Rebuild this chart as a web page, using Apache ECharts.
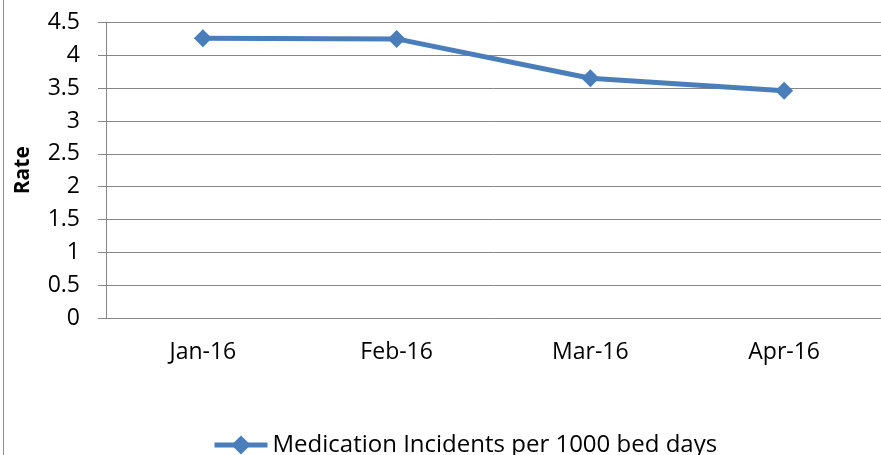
<!DOCTYPE html>
<html>
<head>
<meta charset="utf-8">
<script src="https://cdn.jsdelivr.net/npm/echarts@6/dist/echarts.min.js"></script>
<style>
html,body{margin:0;padding:0;background:#fff;}
#chart{width:881px;height:455px;}
</style>
</head>
<body>
<div id="chart"></div>
<script>
const categories = ['Jan-16', 'Feb-16', 'Mar-16', 'Apr-16'];
const seriesName = 'Medication Incidents per 1000 bed days';
const rateValues = [4.26, 4.25, 3.65, 3.46];
const yAxisName = 'Rate';

const FONT = 'Open Sans';
const chart = echarts.init(document.getElementById('chart'), null, {renderer: 'canvas'});
chart.setOption({
  animation: false,
  backgroundColor: '#ffffff',
  grid: {left: 106, right: -3, top: 22.5, bottom: 137, containLabel: false},
  graphic: [{
    type: 'line', shape: {x1: 3.5, y1: 0, x2: 3.5, y2: 455},
    style: {stroke: '#8c8c8c', lineWidth: 1}
  }],
  legend: {
    left: 207, top: 428,
    itemWidth: 53, itemHeight: 24,
    textStyle: {fontFamily: FONT, fontSize: 24, color: '#000'},
    lineStyle: {width: 5},
    data: [{name: seriesName}]
  },
  xAxis: {
    type: 'category', data: categories, boundaryGap: true,
    axisLine: {show: false},
    axisTick: {show: false},
    axisLabel: {margin: 23, fontFamily: FONT, fontSize: 23, color: '#000'},
    splitLine: {show: false}
  },
  yAxis: {
    type: 'value', min: 0, max: 4.5, interval: 0.5,
    name: yAxisName, nameLocation: 'middle', nameRotate: 90, nameGap: 72,
    nameTextStyle: {fontFamily: FONT, fontSize: 21, fontWeight: 'bold', color: '#000'},
    axisLine: {show: true, lineStyle: {color: '#868686', width: 1}},
    axisTick: {show: true, inside: false, length: 8, lineStyle: {color: '#868686', width: 1}},
    axisLabel: {margin: 26, fontFamily: FONT, fontSize: 23, color: '#000'},
    splitLine: {show: true, lineStyle: {color: '#868686', width: 1}}
  },
  series: [{
    name: seriesName, type: 'line', data: rateValues,
    symbol: 'diamond', symbolSize: 18,
    lineStyle: {color: '#4a7ebb', width: 5},
    itemStyle: {color: '#4a7ebb'}
  }]
});
</script>
</body>
</html>
